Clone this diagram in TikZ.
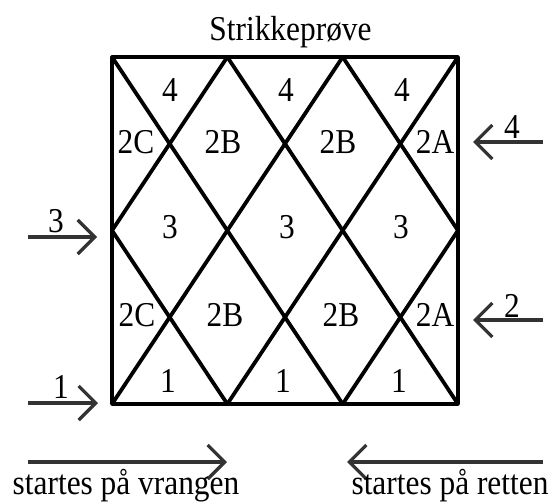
\documentclass[tikz,border=0pt]{standalone}
\usepackage{fontspec}
\setmainfont{Liberation Serif}[FakeStretch=0.9]
\usetikzlibrary{arrows.meta}
\begin{document}
\begin{tikzpicture}[x=1bp,y=-1bp,
  grid/.style={line width=3.8bp, line cap=round, line join=round},
  arr/.style={line width=3.2bp, draw=black!80, -{Straight Barb[length=17bp,width=34bp]}},
  lbl/.style={inner sep=0pt, anchor=base, font=\fontsize{35}{40}\selectfont},
]
\useasboundingbox (0,0) rectangle (555,503);
% grid corners
\coordinate (T0) at (112,57);   \coordinate (T1) at (227.3,57);
\coordinate (T2) at (342.7,57); \coordinate (T3) at (458,57);
\coordinate (M0) at (112,230.5);\coordinate (M3) at (458,230.5);
\coordinate (B0) at (112,404);  \coordinate (B1) at (227.3,404);
\coordinate (B2) at (342.7,404);\coordinate (B3) at (458,404);
\draw[grid] (T0) rectangle (B3);
\draw[grid] (T0) -- (B2);
\draw[grid] (T1) -- (B3);
\draw[grid] (T2) -- (M3);
\draw[grid] (M0) -- (B1);
\draw[grid] (T3) -- (B1);
\draw[grid] (T2) -- (B0);
\draw[grid] (T1) -- (M0);
\draw[grid] (M3) -- (B2);
% title
\node[lbl] (title) at (290.5,41) {Strikkeprøve};
% row 4
\node[lbl] (r4a) at (170,102) {4};
\node[lbl] (r4b) at (286,102) {4};
\node[lbl] (r4c) at (402,102) {4};
% upper 2 row
\node[lbl] (u2c) at (136,154) {2C};
\node[lbl] (u2b) at (223,154) {2B};
\node[lbl] (u2bb) at (338,154) {2B};
\node[lbl] (u2a) at (435,154) {2A};
% row 3
\node[lbl] (r3a) at (170,238) {3};
\node[lbl] (r3b) at (287,238) {3};
\node[lbl] (r3c) at (401,238) {3};
% lower 2 row
\node[lbl] (l2c) at (137,326) {2C};
\node[lbl] (l2b) at (225,326) {2B};
\node[lbl] (l2bb) at (341,326) {2B};
\node[lbl] (l2a) at (435,326) {2A};
% row 1
\node[lbl] (r1a) at (168,392) {1};
\node[lbl] (r1b) at (283,392) {1};
\node[lbl] (r1c) at (399,392) {1};
% side arrows
\coordinate (a3s) at (28,237);  \coordinate (a3e) at (97,237);
\coordinate (a1s) at (28,403);  \coordinate (a1e) at (98,403);
\coordinate (a4s) at (543,142); \coordinate (a4e) at (473,142);
\coordinate (a2s) at (543,320); \coordinate (a2e) at (473,320);
\draw[arr] (a3s) -- (a3e);
\draw[arr] (a1s) -- (a1e);
\draw[arr] (a4s) -- (a4e);
\draw[arr] (a2s) -- (a2e);
\node[lbl] (n3) at (56,232) {3};
\node[lbl] (n1) at (61,398) {1};
\node[lbl] (n4) at (512,139) {4};
\node[lbl] (n2) at (512,317) {2};
% bottom arrows
\coordinate (bls) at (28,462);  \coordinate (ble) at (227,462);
\coordinate (brs) at (543,462); \coordinate (bre) at (347,462);
\draw[arr] (bls) -- (ble);
\draw[arr] (brs) -- (bre);
\node[lbl] (vr) at (126,494.5) {startes på vrangen};
\node[lbl] (re) at (450,494.5) {startes på retten};
\end{tikzpicture}
\end{document}
